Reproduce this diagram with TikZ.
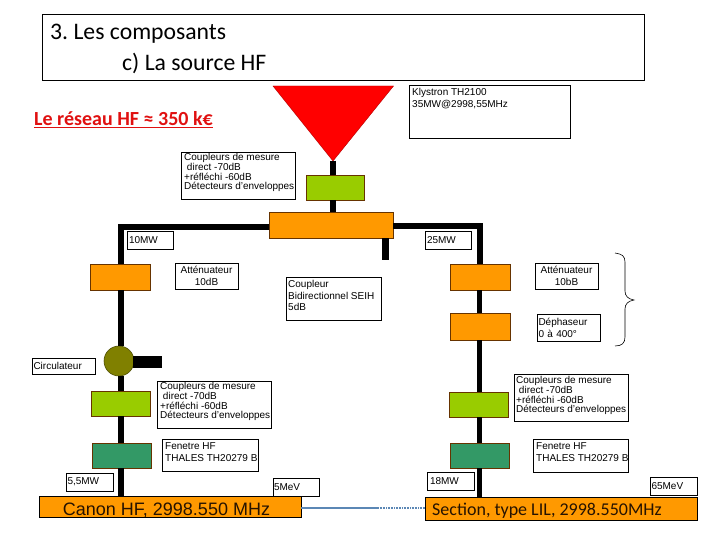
\documentclass[tikz,border=0pt]{standalone}
\usepackage{fontspec}
\setmainfont{Liberation Sans}
\newfontfamily\carl{Carlito}
\definecolor{orng}{HTML}{FF9900}
\definecolor{lime}{HTML}{99CC00}
\definecolor{dgreen}{HTML}{339966}
\definecolor{olive2}{HTML}{808000}
\definecolor{blue2}{HTML}{5B87B5}
\definecolor{red2}{HTML}{E01010}
\tikzset{
  lbl/.style={draw=black,line width=0.8pt,fill=white,inner sep=0pt,minimum width=#1,font=\fontsize{10}{10}\selectfont},
  lbltxt/.style={anchor=north west,inner sep=0pt,align=left},
  blk/.style={draw=black!60!orange,line width=0.8pt,inner sep=0pt,minimum width=60pt,minimum height=26pt},
  orbox/.style={blk,fill=orng},
  grbox/.style={blk,fill=lime,minimum width=59pt,minimum height=25pt},
  dgbox/.style={blk,fill=dgreen,minimum width=59pt,minimum height=25pt},
  wg/.style={line width=5.5pt,black},
}
\begin{document}
\begin{tikzpicture}[x=1pt,y=-1pt]
\frenchspacing
\useasboundingbox (0,0) rectangle (720,540);
% coordinates
\coordinate (ltop) at (121,227);
\coordinate (rtop) at (480,226);
\coordinate (stub) at (385,260);
\coordinate (circend) at (162,362);
\coordinate (dotstart) at (378,507.5);
% blocks
\node[orbox,minimum width=124pt] (split) at (331,225) {};
\node[grbox,minimum width=58pt] (gtop) at (335,187.5) {};
\node[orbox] (la) at (120,277) {};
\node[orbox] (ra) at (480,277) {};
\node[orbox,minimum height=27pt] (rd) at (480,326.5) {};
\node[grbox] (lg) at (120.5,403.5) {};
\node[grbox] (rg) at (478.5,404.5) {};
\node[dgbox] (ld) at (121.5,455.5) {};
\node[dgbox] (rd2) at (479.5,455.5) {};
\node[draw=black,line width=0.8pt,fill=orng,minimum width=262pt,minimum height=21pt,inner sep=0pt] (canon) at (170,506.5) {};
\node[inner sep=0pt,text=black!85!orange,font=\fontsize{18}{18}\selectfont] (cantxt) at (166.5,510) {Canon HF, 2998.550 MHz};
\node[draw=black,line width=0.8pt,fill=orng,minimum width=272pt,minimum height=23pt,inner sep=0pt] (section) at (561,508.5) {};
\node[anchor=west,inner sep=0pt,text=black!85!orange,font=\carl\fontsize{18}{18}\selectfont] (sectxt) at (432,510.5) {Section, type LIL, 2998.550MHz};
\node[draw=olive2!60!black,line width=0.6pt,fill=olive2,circle,minimum size=30pt,inner sep=0pt] (circ) at (119,361) {};
% klystron
\path[fill=red,draw=red!70!black,line width=0.4pt] (273,86) -- (393.5,86) -- (333,161) -- cycle;
\coordinate (kly) at (333,161);
% waveguides
\draw[wg] (kly) -- (gtop.north -| kly);
\draw[wg] (gtop.south -| kly) -- (split.north -| kly);
\draw[wg] (split.west |- ltop) -- (ltop) -- (la.north -| ltop);
\draw[wg] (split.east |- rtop) -- (rtop) -- (ra.north -| rtop);
\draw[line width=7pt] (split.south -| stub) -- (stub);
\draw[wg] (la.south -| ltop) -- (circ.north -| ltop);
\draw[wg] (circ.south -| ltop) -- (lg.north -| ltop);
\draw[wg] (lg.south -| ltop) -- (ld.north -| ltop);
\draw[wg] (ld.south -| ltop) -- (canon.north -| ltop);
\draw[wg] (ra.south -| rd2) -- (rd.north -| rd2);
\draw[wg] (rd.south -| rd2) -- (rg.north -| rd2);
\draw[wg] (rg.south -| rd2) -- (rd2.north);
\draw[wg] (rd2.south) -- (section.north -| rd2);
\draw[line width=12pt] (circ.east) ++(-1,1) -- (circend);
\draw[blue2,line width=2pt] (canon.east |- dotstart) -- (dotstart);
\draw[blue2,line width=2pt,dash pattern=on 1pt off 0.6pt] (dotstart) -- (section.west |- dotstart);
% brace
\draw[black,line width=0.6pt] (615,253) .. controls (622,254) and (625,256) .. (625,262) -- (625,291) .. controls (625,296) and (628,299) .. (634,300) .. controls (628,301) and (625,304) .. (625,309) -- (625,337) .. controls (625,343) and (622,346) .. (615,346);
% title
\node[draw=black,line width=0.8pt,minimum width=602pt,minimum height=66pt,inner sep=0pt] (title) at (343,47) {};
\node[anchor=west,inner sep=0pt,font=\carl\fontsize{23.7}{24}\selectfont] (t1) at (50,34) {3. Les composants};
\node[anchor=west,inner sep=0pt,font=\carl\fontsize{23.7}{24}\selectfont] (t2) at (122,63) {c) La source HF};
\node[anchor=west,inner sep=0pt,text=red2,font=\carl\bfseries\fontsize{20}{20}\selectfont] (res) at (34,120) {\underline{Le réseau HF ≈ 350 k€}};
% labels: box then text
\node[lbl=161pt,minimum height=53pt] (kl) at (489.5,111.5) {};
\node[lbltxt,font=\fontsize{10}{12.5}\selectfont] (klt) at (412,88) {Klystron TH2100\\35MW@2998,55MHz};
\node[lbl=114pt,minimum height=47pt] (c1) at (238,175.5) {};
\node[lbltxt,font=\fontsize{10}{9.3}\selectfont] (c1t) at (184,153) {Coupleurs de mesure\\\ direct -70dB\\+réfléchi -60dB\\Détecteurs d'enveloppes};
\node[lbl=46pt,minimum height=18pt,text width=42pt,align=left] (m10) at (150,240) {10MW};
\node[lbl=46pt,minimum height=18pt,text width=42pt,align=left] (m25) at (448,240) {25MW};
\node[lbl=63pt,minimum height=26pt,align=center,font=\fontsize{10}{11.7}\selectfont] (al) at (206.5,276) {Atténuateur\\10dB};
\node[lbl=63pt,minimum height=26pt,align=center,font=\fontsize{10}{11.7}\selectfont] (ar) at (566.5,276) {Atténuateur\\10bB};
\node[lbl=95pt,minimum height=43pt] (cb) at (333.5,298.5) {};
\node[lbltxt,font=\fontsize{10}{11.7}\selectfont] (cbt) at (288,280) {Coupleur\\Bidirectionnel SEIH\\5dB};
\node[lbl=63pt,minimum height=27pt,text width=60pt,align=left,font=\fontsize{10}{12}\selectfont] (dp) at (568.5,327.5) {Déphaseur\\0 à 400°};
\node[lbl=63pt,minimum height=16pt,text width=60pt,align=left] (ci) at (63.5,366) {Circulateur};
\node[lbl=114pt,minimum height=47pt] (c2) at (214,404.5) {};
\node[lbltxt,font=\fontsize{10}{9.3}\selectfont] (c2t) at (160,382) {Coupleurs de mesure\\\ direct -70dB\\+réfléchi -60dB\\Détecteurs d'enveloppes};
\node[lbl=114pt,minimum height=47pt] (c3) at (571,397.5) {};
\node[lbltxt,font=\fontsize{10}{9.3}\selectfont] (c3t) at (516,376) {Coupleurs de mesure\\\ direct -70dB\\+réfléchi -60dB\\Détecteurs d'enveloppes};
\node[lbl=96pt,minimum height=32pt] (f1) at (210,455) {};
\node[lbltxt,font=\fontsize{10}{12}\selectfont] (f1t) at (165,442) {Fenetre HF\\THALES TH20279 B};
\node[lbl=95pt,minimum height=33pt] (f2) at (580.5,455.5) {};
\node[lbltxt,font=\fontsize{10}{12}\selectfont] (f2t) at (536,442) {Fenetre HF\\THALES TH20279 B};
\node[lbl=47pt,minimum height=18pt,text width=44pt,align=left] (p55) at (89.5,482) {5,5MW};
\node[lbl=46pt,minimum height=18pt,text width=44pt,align=left] (e5) at (296,487.5) {5MeV};
\node[lbl=47pt,minimum height=18pt,text width=41pt,align=left] (p18) at (450.5,481) {18MW};
\node[lbl=47pt,minimum height=18pt,text width=44pt,align=left] (e65) at (673.5,486) {65MeV};
\end{tikzpicture}
\end{document}
